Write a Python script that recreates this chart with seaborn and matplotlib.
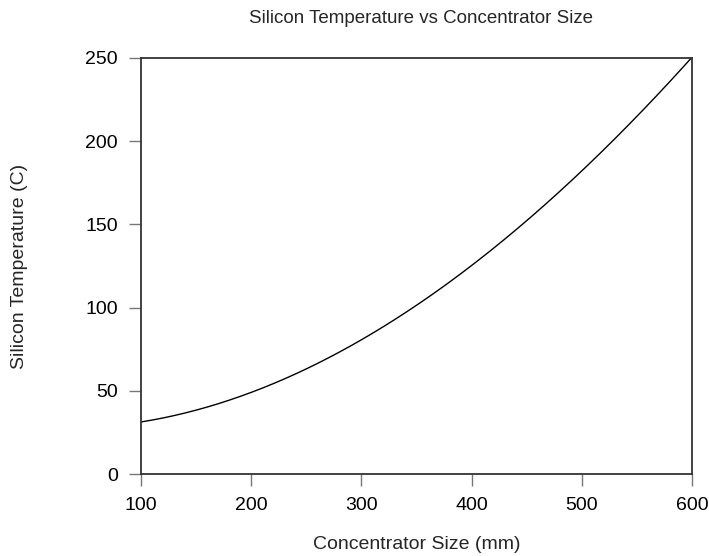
import numpy as np
import pandas as pd
import matplotlib
matplotlib.use("Agg")
import matplotlib.pyplot as plt
import seaborn as sns

# --- Data ---
size_mm = [100, 150, 200, 250, 300, 350, 400, 450, 500, 550, 600]
temp_c = [31, 39, 49.5, 63, 81, 101, 125, 152, 183, 215, 250]

df = pd.DataFrame({"size": size_mm, "temp": temp_c})

# --- Style ---
sns.set_style("white")
plt.rcParams["font.family"] = ["Liberation Sans", "DejaVu Sans"]

fig = plt.figure(figsize=(7.09, 5.56), dpi=100)
ax = fig.add_axes([0.199, 0.147, 0.777, 0.749])

# smooth the read points with a cubic fit, drawn through seaborn
coef = np.polyfit(df["size"], df["temp"], 3)
xs = np.linspace(100, 600, 200)
curve = pd.DataFrame({"size": xs, "temp": np.polyval(coef, xs)})
sns.lineplot(data=curve, x="size", y="temp", color="black", linewidth=1.0, ax=ax)

ax.set_xlim(100, 600)
ax.set_ylim(0, 250)
ax.set_xticks([100, 200, 300, 400, 500, 600])
ax.set_yticks([0, 50, 100, 150, 200, 250])

for s in ax.spines.values():
    s.set_color("#333333")
    s.set_linewidth(1.3)
    s.set_visible(True)

ax.tick_params(axis="both", direction="out", length=8.6, width=1.0,
               color="#777777", labelsize=14, labelcolor="black",
               bottom=True, left=True)
ax.tick_params(axis="y", pad=8)
ax.tick_params(axis="x", pad=8)

ax.set_xlabel("Concentrator Size (mm)", fontsize=14, va="baseline")
ax.xaxis.set_label_coords(0.5, -0.180)
ax.set_ylabel("Silicon Temperature (C)", fontsize=14, va="bottom")
ax.yaxis.set_label_coords(-0.205, 0.5)
fig.text(0.594, 0.9586, "Silicon Temperature vs Concentrator Size",
         ha="center", va="baseline", fontsize=13.5)

plt.savefig("out.png", dpi=100)
